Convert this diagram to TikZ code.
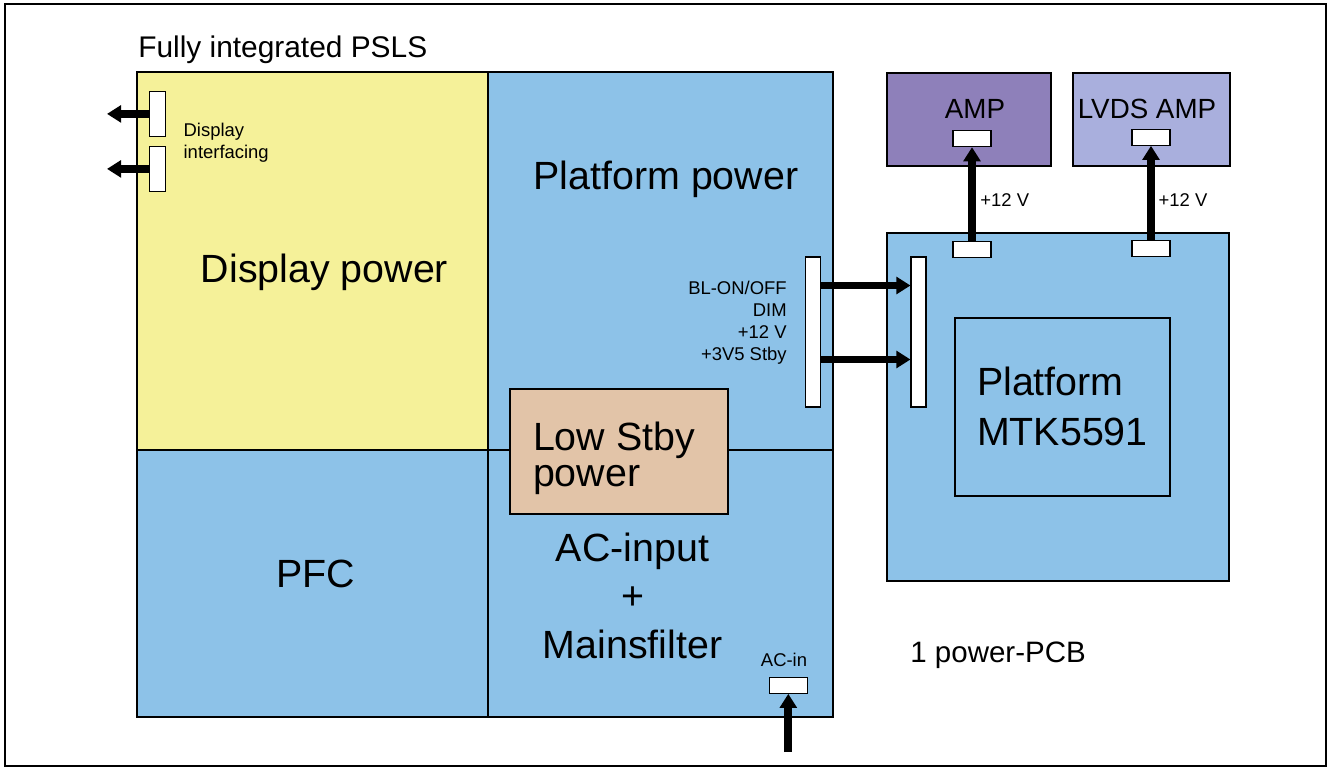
\documentclass[tikz,border=0pt]{standalone}
\usepackage{fontspec}
\setmainfont{Liberation Sans}
\usetikzlibrary{arrows.meta}
\definecolor{psuInk}{HTML}{000000}
\definecolor{psuYellow}{HTML}{F5F199}
\definecolor{psuBlue}{HTML}{8DC2E8}
\definecolor{psuTan}{HTML}{E2C4A8}
\definecolor{psuAmp}{HTML}{8E80BA}
\definecolor{psuLvds}{HTML}{A9AFDD}
\tikzset{
  every picture/.style={text=psuInk},
  psu frame/.style={draw=psuInk, line width=1.2pt},
  psu block/.style={draw=psuInk, line width=1.2pt},
  psu pad/.style={draw=psuInk, line width=0.6pt, fill=white, inner sep=0pt},
  psu pad v/.style={psu pad, minimum width=0.33cm, minimum height=0.91cm},
  psu pad h/.style={psu pad, minimum width=0.76cm, minimum height=0.32cm},
  psu strip/.style={psu pad, minimum width=0.3cm, minimum height=3cm},
  psu arrow/.style={-{Triangle[length=8pt,width=9.5pt]},
    draw=psuInk, line width=4.5pt, line cap=butt},
  psu big/.style={font=\fontsize{22.4}{28.3}\selectfont, inner sep=0pt},
  psu mid/.style={font=\fontsize{15.8}{19}\selectfont, inner sep=0pt},
  psu small/.style={font=\fontsize{10.5}{12.5}\selectfont, inner sep=0pt}
}

\begin{document}
\begin{tikzpicture}[x=0.02cm,y=-0.02cm]
  \useasboundingbox (0,0) rectangle (1328,767);
  \draw[psu frame] (5,4) rectangle (1326,766);

  % power supply board, four quarters
  \draw[psu block, fill=psuYellow] (137,72) rectangle (488,450);
  \draw[psu block, fill=psuBlue] (488,72) rectangle (833,450);
  \draw[psu block, fill=psuBlue] (137,450) rectangle (488,717);
  \draw[psu block, fill=psuBlue] (488,450) rectangle (833,717);
  \draw[psu block, line width=1.5pt] (137,72) rectangle (833,717);
  \draw[psu block, fill=psuTan] (510,389) rectangle (728,514);

  % platform board and amplifiers
  \draw[psu block, fill=psuBlue] (887,233) rectangle (1229,581);
  \draw[psu block] (955,318) rectangle (1170,496);
  \draw[psu block, fill=psuAmp] (887,73) rectangle (1051,166);
  \draw[psu block, fill=psuLvds] (1073,73) rectangle (1230,166);

  \node[font=\fontsize{17}{20}\selectfont, inner sep=0pt, anchor=base west] (title) at (138,58) {Fully integrated PSLS};
  \node[psu big, anchor=base] (dispPower) at (324.5,282) {Display power};
  \node[psu big, anchor=base] (platPower) at (666,189) {Platform power};
  \node[psu big, anchor=base] (pfc) at (315.5,587) {PFC};
  \node[psu big, font=\fontsize{22.4}{27.5}\selectfont, align=center, anchor=base] (acInput) at (632.5,658.3) {AC-input\\+\\Mainsfilter};
  \node[psu big, font=\fontsize{22.4}{20}\selectfont, align=left, anchor=base west] (lowStby) at (532.7,486) {Low Stby\\power};
  \node[psu big, align=left, anchor=base west] (platMtk) at (976.7,445) {Platform\\MTK5591};
  \node[psu mid, anchor=base] (amp) at (975,118.3) {AMP};
  \node[psu mid, anchor=base] (lvdsAmp) at (1147,118.3) {LVDS AMP};
  \node[font=\fontsize{16.8}{20}\selectfont, inner sep=0pt, anchor=base west] (pcbNote) at (910,662) {1 power-PCB};

  \node[psu small, align=left, anchor=base west] (dispIf) at (183.3,158.3) {Display\\interfacing};
  \node[psu small, align=right, anchor=base east] (ctrlSig) at (787,360.7) {BL-ON/OFF\\DIM\\+12 V\\+3V5 Stby};
  \node[psu small, anchor=base] (acLabel) at (784,666) {AC-in};
  \node[psu small, anchor=base west] (ampVolt) at (980,206.7) {+12 V};
  \node[psu small, anchor=base west] (lvdsVolt) at (1158.3,206.7) {+12 V};

  % connectors
  \node[psu pad v] (diPadA) at (157.5,113.9) {};
  \node[psu pad v] (diPadB) at (157.5,168.9) {};
  \node[psu strip] (ctrlStripL) at (812.7,332) {};
  \node[psu strip] (ctrlStripR) at (918.5,332) {};
  \node[psu pad h] (ampIn) at (972,138.7) {};
  \node[psu pad h] (ampOut) at (972,249.8) {};
  \node[psu pad h] (lvdsIn) at (1151,137.3) {};
  \node[psu pad h] (lvdsOut) at (1151,248.3) {};
  \node[psu pad h] (acPad) at (788.3,685.3) {};

  \coordinate (diOutA) at (107,113.9);
  \coordinate (diOutB) at (107,168.9);
  \coordinate (acFeed) at (788.3,752);

  \draw[psu arrow] (diPadA.west) -- (diOutA);
  \draw[psu arrow] (diPadB.west) -- (diOutB);
  \draw[psu arrow] ([yshift=0.93cm]ctrlStripL.east) -- ([yshift=0.93cm]ctrlStripR.west);
  \draw[psu arrow] ([yshift=-0.55cm]ctrlStripL.east) -- ([yshift=-0.55cm]ctrlStripR.west);
  \draw[psu arrow] (ampOut.north) -- (ampIn.south);
  \draw[psu arrow] (lvdsOut.north) -- (lvdsIn.south);
  \draw[psu arrow] (acFeed) -- (acPad.south);
\end{tikzpicture}
\end{document}
